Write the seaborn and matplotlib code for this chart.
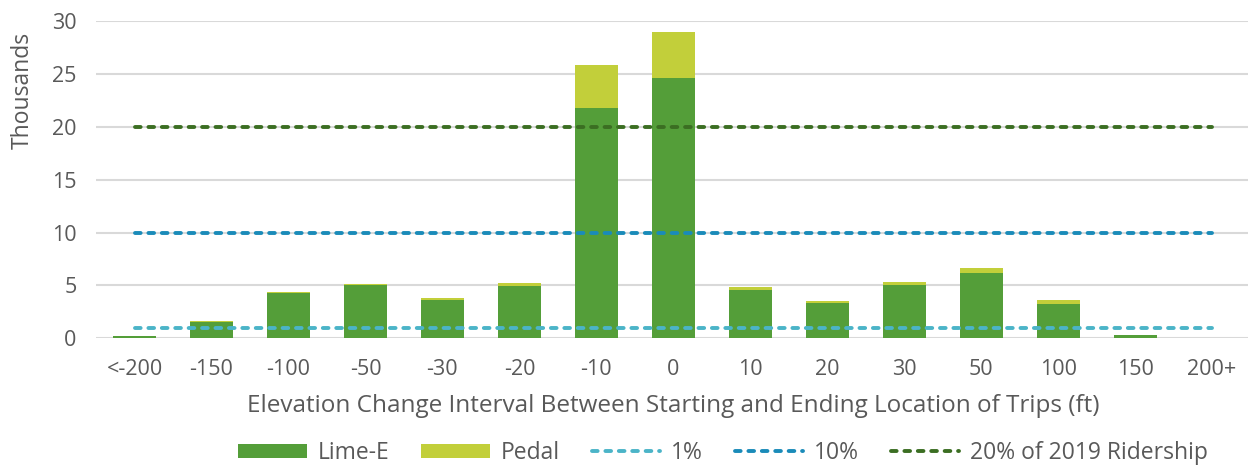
import matplotlib
matplotlib.use("Agg")
import matplotlib.pyplot as plt
import seaborn as sns
import numpy as np
import pandas as pd
from matplotlib.patches import Patch
from matplotlib.lines import Line2D

# Elevation change intervals (ft) and trip counts (thousands)
categories = ["<-200", "-150", "-100", "-50", "-30", "-20", "-10", "0",
              "10", "20", "30", "50", "100", "150", "200+"]
lime_e = [0.20, 1.52, 4.26, 5.02, 3.66, 4.98, 21.75, 24.63,
          4.60, 3.37, 5.08, 6.21, 3.28, 0.28, 0.01]
pedal = [0.02, 0.09, 0.12, 0.12, 0.13, 0.26, 4.13, 4.36,
         0.29, 0.16, 0.25, 0.42, 0.32, 0.01, 0.0]

# Reference levels relative to 2019 ridership (thousands)
ref_labels = ["1%", "10%", "20% of 2019 Ridership"]
ref_values = [1.0, 10.0, 20.0]

y_ticks = [0, 5, 10, 15, 20, 25, 30]

LIME = "#549E39"
PEDAL = "#C2CF3A"
REF_COLORS = ["#4BB4C8", "#1A8BB9", "#3B6E22"]
TEXT = "#595959"
GRID = "#D9D9D9"
LW = 2.8
DASH = (1.45, 2.0)

sns.set_theme(style="white")
plt.rcParams["font.family"] = ["Open Sans", "DejaVu Sans"]

df = pd.DataFrame({"interval": categories, "lime": lime_e, "pedal": pedal})
df["total"] = df["lime"] + df["pedal"]

fig = plt.figure(figsize=(12.48, 4.66), dpi=100)
ax = fig.add_axes([0.077, 0.274, 0.925, 0.681])

# Stacked bars: total in the pedal colour, Lime-E drawn over it
sns.barplot(data=df, x="interval", y="total", color=PEDAL, width=0.56,
            saturation=1, linewidth=0, ax=ax, zorder=3)
sns.barplot(data=df, x="interval", y="lime", color=LIME, width=0.56,
            saturation=1, linewidth=0, ax=ax, zorder=3)

# Horizontal reference lines spanning the first to last category
xs = np.arange(len(categories))
for val, col in zip(ref_values, REF_COLORS):
    ax.plot(xs, [val] * len(xs), color=col, lw=LW,
            dashes=DASH, dash_capstyle="round", zorder=4)

ax.set_xlim(-0.5, len(categories) - 0.5)
ax.set_ylim(0, 30)
ax.set_yticks(y_ticks)
ax.yaxis.grid(True, color=GRID, lw=1.5, zorder=0)
ax.set_axisbelow(True)
for s in ax.spines.values():
    s.set_visible(False)
ax.tick_params(axis="both", length=0, labelsize=15.5, labelcolor=TEXT)
ax.tick_params(axis="y", pad=14)
ax.tick_params(axis="x", pad=15)
ax.set_ylabel("")
ax.set_xlabel("Elevation Change Interval Between Starting and Ending Location of Trips (ft)",
              fontsize=17.5, color=TEXT, labelpad=10)

fig.text(0.018, 0.807, "Thousands", rotation=90, ha="center", va="center",
         fontsize=16.5, color=TEXT)

handles = [Patch(facecolor=LIME, edgecolor="none"),
           Patch(facecolor=PEDAL, edgecolor="none")]
for col in REF_COLORS:
    handles.append(Line2D([0], [0], color=col, lw=LW, dashes=DASH,
                          dash_capstyle="round"))
labels = ["Lime-E", "Pedal"] + ref_labels
leg = fig.legend(handles, labels, loc="center", ncol=5,
                 bbox_to_anchor=(723 / 1248, 1 - 453 / 466), frameon=False,
                 fontsize=16.5, handlelength=3.0, handleheight=0.55,
                 handletextpad=0.45, columnspacing=1.4)
for t in leg.get_texts():
    t.set_color(TEXT)

fig.savefig("out.png", dpi=100)
